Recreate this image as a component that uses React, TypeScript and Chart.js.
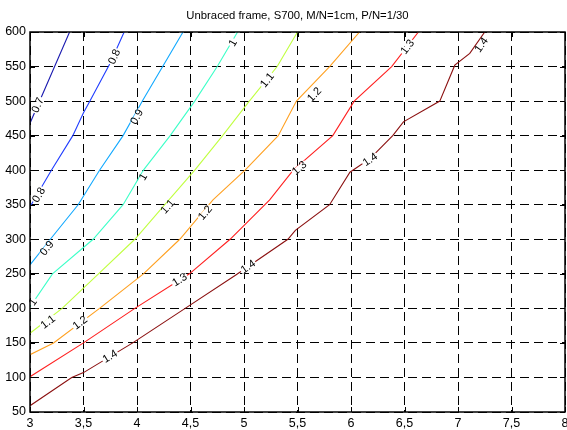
import React, { useEffect, useRef } from "react";
import { Chart, registerables } from "chart.js";

Chart.register(...registerables);

const TITLE = "Unbraced frame, S700, M/N=1cm, P/N=1/30";
const X_TICKS = [3, 3.5, 4, 4.5, 5, 5.5, 6, 6.5, 7, 7.5, 8];
const Y_TICKS = [50, 100, 150, 200, 250, 300, 350, 400, 450, 500, 550, 600];

const LEVELS = ["0.7", "0.8", "0.9", "1", "1.1", "1.2", "1.3", "1.4"];
const COLORS = ["#1a1ab0", "#1f3cff", "#10a8ff", "#3cffc8", "#c0ff40", "#ffa020", "#ff2020", "#8b1010"];

const c07 = [[3, 468], [3.23, 550], [3.37, 600]];
const c08 = [[3, 347], [3.2, 400], [3.4, 450], [3.5, 483], [3.56, 500], [3.75, 555], [3.88, 600]];
const c09 = [[3, 263], [3.19, 300], [3.45, 350], [3.65, 400], [3.87, 450], [4.05, 500], [4.24, 550], [4.43, 600]];
const c10 = [[3, 202], [3.21, 250], [3.59, 300], [3.87, 350], [4.06, 400], [4.31, 450], [4.54, 500], [4.75, 550], [4.94, 600]];
const c11 = [[3, 164], [3.3, 200], [3.64, 250], [3.98, 300], [4.26, 350], [4.54, 400], [4.8, 450], [5.05, 500], [5.31, 550], [5.5, 600]];
const c12 = [[3, 133], [3.22, 150], [3.65, 200], [4.06, 250], [4.4, 300], [4.71, 357], [5.01, 400], [5.32, 450], [5.49, 500], [5.8, 550], [6.08, 600]];
const c13 = [[3, 101], [3.5, 150], [3.98, 200], [4.49, 250], [4.87, 300], [5.24, 357], [5.46, 400], [5.83, 450], [6.03, 500], [6.38, 550], [6.63, 600]];
const c14 = [[3, 59], [3.39, 100], [3.5, 107], [3.96, 150], [4.45, 200], [4.92, 248], [5.41, 300], [5.48, 313], [5.8, 350], [5.99, 397], [6.18, 417], [6.39, 450], [6.49, 470], [6.83, 500], [6.97, 552], [7.11, 569], [7.25, 600]];

const CONTOURS = [c07, c08, c09, c10, c11, c12, c13, c14];

// contour labels: [level index, x, y]
const LABELS = [
  [0, 3.075, 494],
  [1, 3.79, 564], [1, 3.085, 364],
  [2, 4.0, 477], [2, 3.16, 287],
  [3, 4.9, 584], [3, 4.06, 390], [3, 3.03, 209],
  [4, 5.22, 530], [4, 4.29, 347], [4, 3.17, 180],
  [5, 5.66, 509], [5, 4.64, 338], [5, 3.47, 179],
  [6, 6.53, 578], [6, 5.52, 403], [6, 4.4, 241],
  [7, 7.22, 581], [7, 6.18, 415], [7, 5.04, 260], [7, 3.75, 130],
];

const FONT = "'Liberation Sans', Arial, sans-serif";

const framePlugin = {
  id: "frame",
  afterDraw(chart: any) {
    const { ctx, chartArea: a, scales } = chart;
    const xs = scales.x, ys = scales.y;
    ctx.save();
    // contour labels
    ctx.font = `11px ${FONT}`;
    ctx.textAlign = "center";
    ctx.textBaseline = "middle";
    for (const [li, lx, ly] of LABELS) {
      const px = xs.getPixelForValue(lx);
      const py = ys.getPixelForValue(ly);
      const pts = CONTOURS[li].map(([x, y]) => [xs.getPixelForValue(x), ys.getPixelForValue(y)]);
      let best = 1e9, ang = 0;
      for (let i = 0; i < pts.length - 1; i++) {
        const [x1, y1] = pts[i], [x2, y2] = pts[i + 1];
        const dx = x2 - x1, dy = y2 - y1;
        const L = dx * dx + dy * dy;
        let t = ((px - x1) * dx + (py - y1) * dy) / L;
        t = Math.max(0, Math.min(1, t));
        const qx = x1 + t * dx, qy = y1 + t * dy;
        const d = (qx - px) ** 2 + (qy - py) ** 2;
        if (d < best) { best = d; ang = Math.atan2(dy, dx); }
      }
      const text = LEVELS[li];
      const w = ctx.measureText(text).width;
      ctx.save();
      ctx.translate(px, py);
      ctx.rotate(ang);
      ctx.fillStyle = "#fff";
      ctx.fillRect(-w / 2 - 1, -3, w + 2, 6);
      ctx.fillStyle = "#000";
      ctx.fillText(text, 0, 0);
      ctx.restore();
    }
    // inward ticks
    ctx.strokeStyle = "#000";
    ctx.lineWidth = 1;
    ctx.setLineDash([]);
    ctx.beginPath();
    for (const v of X_TICKS) {
      const x = Math.round(xs.getPixelForValue(v)) + 0.5;
      ctx.moveTo(x, a.bottom); ctx.lineTo(x, a.bottom - 5);
      ctx.moveTo(x, a.top); ctx.lineTo(x, a.top + 5);
    }
    for (const v of Y_TICKS) {
      const y = Math.round(ys.getPixelForValue(v)) + 0.5;
      ctx.moveTo(a.left, y); ctx.lineTo(a.left + 5, y);
      ctx.moveTo(a.right, y); ctx.lineTo(a.right - 5, y);
    }
    ctx.stroke();
    // frame
    ctx.lineWidth = 1.5;
    ctx.strokeRect(a.left, a.top, a.right - a.left, a.bottom - a.top);
    // title
    ctx.font = `11.3px ${FONT}`;
    ctx.fillStyle = "#000";
    ctx.textAlign = "center";
    ctx.textBaseline = "middle";
    ctx.fillText(TITLE, (a.left + a.right) / 2, 16);
    ctx.restore();
  },
};

export default function App() {
  const ref = useRef<HTMLCanvasElement | null>(null);
  useEffect(() => {
    if (!ref.current) return;
    const chart = new Chart(ref.current, {
      type: "scatter",
      data: {
        datasets: CONTOURS.map((c, i) => ({
          label: LEVELS[i],
          data: c.map(([x, y]) => ({ x, y })),
          showLine: true,
          borderColor: COLORS[i],
          backgroundColor: COLORS[i],
          borderWidth: 1.1,
          pointRadius: 0,
          tension: 0,
        })),
      },
      options: {
        animation: false,
        responsive: false,
        layout: { padding: { top: 32, right: 2, left: 0, bottom: 0 } },
        plugins: { legend: { display: false }, tooltip: { enabled: false }, title: { display: false } },
        scales: {
          x: {
            type: "linear",
            min: 3,
            max: 8,
            afterBuildTicks: (s: any) => { s.ticks = X_TICKS.map((v) => ({ value: v })); },
            afterFit: (s: any) => { s.height = 18; s.paddingLeft = 0; s.paddingRight = 0; },
            ticks: {
              padding: 4,
              color: "#000",
              font: { family: FONT, size: 12.5 },
              maxRotation: 0,
              autoSkip: false,
              callback: (v: any) => String(v).replace(".", ","),
            },
            grid: { color: "#000", lineWidth: 1, drawTicks: false },
            border: { display: false, dash: [9, 5] },
          },
          y: {
            type: "linear",
            min: 50,
            max: 600,
            afterBuildTicks: (s: any) => { s.ticks = Y_TICKS.map((v) => ({ value: v })); },
            afterFit: (s: any) => { s.width = 30; s.paddingTop = 0; s.paddingBottom = 0; },
            ticks: {
              padding: 4,
              color: "#000",
              font: { family: FONT, size: 12.5 },
              autoSkip: false,
            },
            grid: { color: "#000", lineWidth: 1, drawTicks: false },
            border: { display: false, dash: [9, 5] },
          },
        },
      },
      plugins: [framePlugin],
    });
    return () => chart.destroy();
  }, []);
  return (
    <div style={{ position: "fixed", left: 0, top: 0, width: 567, height: 430, background: "#fff" }}>
      <canvas ref={ref} width={567} height={430} style={{ width: 567, height: 430 }} />
    </div>
  );
}
